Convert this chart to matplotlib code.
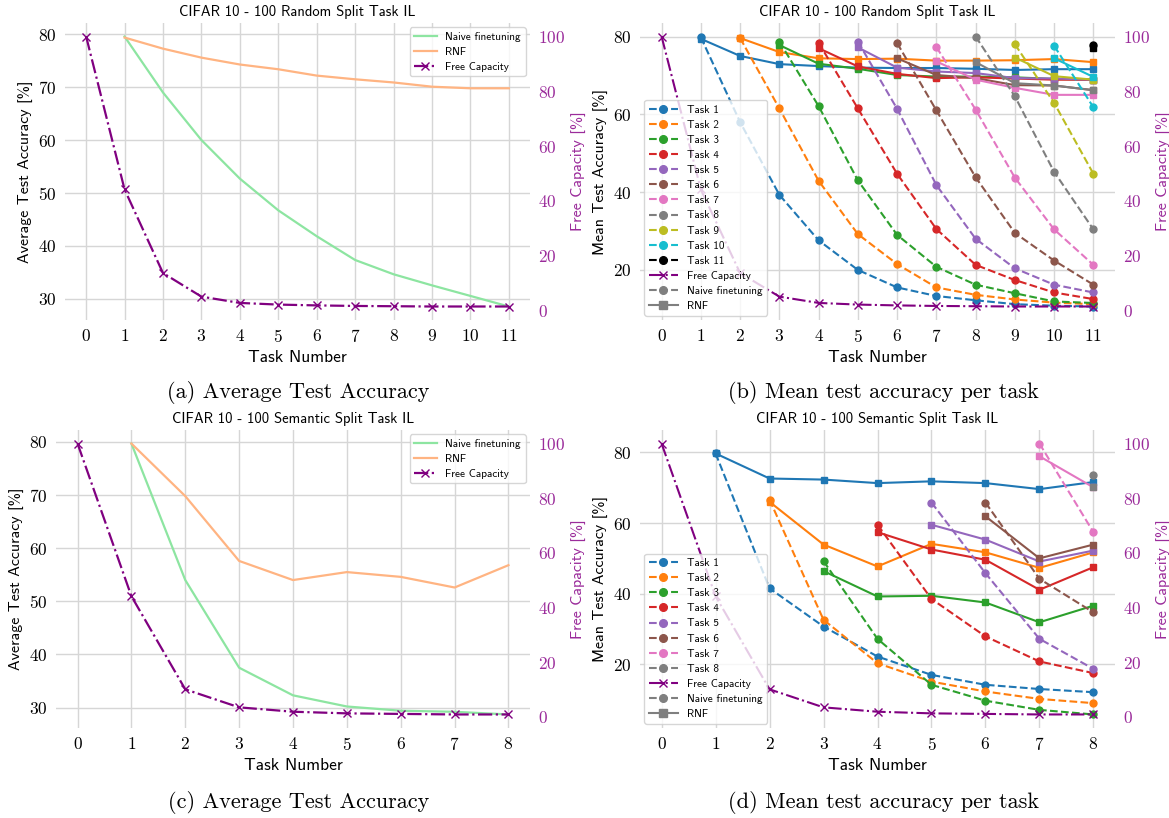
import matplotlib
matplotlib.use('Agg')
import matplotlib.pyplot as plt
from matplotlib.lines import Line2D
from matplotlib.ticker import MultipleLocator

plt.rcParams['font.family'] = ['cmss10', 'DejaVu Sans']
plt.rcParams['axes.formatter.use_mathtext'] = True
plt.rcParams['axes.unicode_minus'] = False

PURPLE = '#800080'
LABEL_PURPLE = '#9a2a9a'
GREEN = '#8de5a1'
ORANGE = '#ffb482'
GREY = '#7f7f7f'
TASK_COLORS = ['#1f77b4', '#ff7f0e', '#2ca02c', '#d62728', '#9467bd', '#8c564b',
               '#e377c2', '#7f7f7f', '#bcbd22', '#17becf', '#000000']

# ---- CIFAR 10 - 100 random split ----
random_tasks = [0, 1, 2, 3, 4, 5, 6, 7, 8, 9, 10, 11]
random_free = [100, 44.2, 13.7, 5.1, 2.8, 2.2, 1.9, 1.7, 1.6, 1.5, 1.5, 1.5]
random_naive_avg = [79.6, 69.0, 60.0, 52.7, 46.7, 41.8, 37.3, 34.6, 32.5, 30.5, 28.5]
random_rnf_avg = [79.4, 77.3, 75.6, 74.3, 73.4, 72.2, 71.5, 70.9, 70.1, 69.8, 69.8]

# per task accuracy, starting at the task's own step
random_naive = [
    [79.8, 58.0, 39.3, 27.6, 20.0, 15.5, 13.3, 12.2, 11.2, 10.8, 10.6],
    [79.6, 61.5, 42.9, 29.2, 21.5, 15.5, 13.6, 12.4, 11.6, 11.2],
    [78.7, 62.1, 43.0, 29.0, 20.8, 16.2, 14.0, 11.9, 11.5],
    [78.4, 61.5, 44.7, 30.5, 21.3, 17.4, 14.2, 12.5],
    [78.7, 61.4, 41.8, 28.0, 20.4, 16.2, 14.2],
    [78.3, 61.0, 43.8, 29.5, 22.4, 16.2],
    [77.3, 61.2, 43.7, 30.4, 21.3],
    [80.0, 64.6, 45.2, 30.4],
    [78.0, 62.9, 44.7],
    [77.6, 61.8],
    [77.7],
]
random_rnf = [
    [79.4, 75.0, 72.9, 72.4, 72.0, 71.9, 71.9, 71.7, 71.4, 71.6, 71.6],
    [79.6, 76.0, 74.4, 74.2, 74.3, 73.8, 73.8, 73.9, 74.2, 73.4],
    [77.8, 73.0, 71.7, 70.1, 69.7, 69.7, 69.5, 69.1, 68.9],
    [77.0, 72.3, 70.4, 69.3, 69.5, 69.2, 68.9, 68.9],
    [77.2, 72.0, 71.0, 70.6, 69.3, 69.2, 68.9],
    [74.4, 70.1, 69.3, 67.5, 67.4, 66.2],
    [73.6, 68.9, 66.8, 65.0, 65.0],
    [73.4, 68.0, 67.4, 66.2],
    [74.6, 69.8, 68.9],
    [74.4, 69.6],
    [77.0],
]

# ---- CIFAR 10 - 100 semantic split ----
semantic_tasks = [0, 1, 2, 3, 4, 5, 6, 7, 8]
semantic_free = [100, 44.1, 10.0, 3.4, 1.8, 1.2, 1.0, 0.8, 0.8]
semantic_naive_avg = [79.7, 54.0, 37.5, 32.3, 30.2, 29.4, 29.2, 28.7]
semantic_rnf_avg = [79.7, 69.8, 57.6, 54.0, 55.5, 54.6, 52.6, 56.8]

semantic_naive = [
    [79.7, 41.5, 30.7, 22.2, 17.0, 14.2, 13.0, 12.1],
    [66.6, 32.6, 20.3, 15.1, 12.3, 10.2, 9.0],
    [49.2, 27.2, 14.2, 9.7, 7.1, 5.8],
    [59.5, 38.5, 27.9, 20.8, 17.5],
    [65.8, 45.8, 27.2, 18.7],
    [65.8, 44.2, 34.7],
    [82.5, 57.4],
    [73.6],
]
semantic_rnf = [
    [79.7, 72.6, 72.3, 71.3, 71.8, 71.3, 69.6, 71.6],
    [66.0, 53.9, 47.7, 54.1, 51.7, 47.3, 51.7],
    [46.4, 39.2, 39.4, 37.5, 31.9, 36.6],
    [57.4, 52.5, 49.6, 41.1, 47.5],
    [59.5, 55.3, 49.1, 52.2],
    [61.9, 50.0, 53.9],
    [78.9, 70.1],
    [70.3],
]

W, H = 1169, 818
fig = plt.figure(figsize=(W / 100, H / 100), dpi=100)


def px_axes(x0, y0, x1, y1):
    return fig.add_axes([x0 / W, 1 - y1 / H, (x1 - x0) / W, (y1 - y0) / H])


def style(ax, ax2, tasks, ystep, ylabel, title):
    for a in (ax, ax2):
        for s in a.spines.values():
            s.set_visible(False)
        a.tick_params(length=0, pad=6, labelsize=12.5, labelfontfamily='cmr10')
    ax.grid(True, color='#d6d6d6', lw=1.0)
    ax.set_axisbelow(True)
    ax2.grid(False)
    ax.set_xticks(tasks)
    ax.yaxis.set_major_locator(MultipleLocator(ystep))
    ax2.yaxis.set_major_locator(MultipleLocator(20))
    ax2.tick_params(axis='y', colors=LABEL_PURPLE)
    ax.set_xlabel('Task Number', fontsize=12.5, labelpad=3)
    ax.set_ylabel(ylabel, fontsize=11.5)
    ax2.set_ylabel('Free Capacity [%]', fontsize=11.5, color=LABEL_PURPLE)
    ax.set_title(title, fontsize=10.5, pad=5)


def avg_panel(ax, tasks, naive, rnf, free, title):
    ax2 = ax.twinx()
    ax.plot(tasks[1:], naive, color=GREEN, lw=1.6)
    ax.plot(tasks[1:], rnf, color=ORANGE, lw=1.6)
    ax2.plot(tasks, free, color=PURPLE, ls='-.', marker='x', lw=1.6, ms=6)
    style(ax, ax2, tasks, 10, 'Average Test Accuracy [%]', title)
    handles = [Line2D([], [], color=GREEN, lw=1.6),
               Line2D([], [], color=ORANGE, lw=1.6),
               Line2D([], [], color=PURPLE, ls='-.', marker='x', lw=1.6, ms=6)]
    ax2.legend(handles, ['Naive finetuning', 'RNF', 'Free Capacity'],
               loc='upper right', fontsize=8, labelspacing=0.45, borderaxespad=0.4)


def task_panel(ax, tasks, naive, rnf, free, title):
    ax2 = ax.twinx()
    for k in range(len(naive)):
        xs = tasks[k + 1:k + 1 + len(naive[k])]
        ax.plot(xs, naive[k], ls='--', marker='o', color=TASK_COLORS[k], lw=1.5, ms=5)
        ax.plot(xs, rnf[k], ls='-', marker='s', color=TASK_COLORS[k], lw=1.5, ms=5)
    ax2.plot(tasks, free, color=PURPLE, ls='-.', marker='x', lw=1.5, ms=6)
    style(ax, ax2, tasks, 20, 'Mean Test Accuracy [%]', title)
    handles, labels = [], []
    for k in range(len(naive)):
        handles.append(Line2D([], [], color=TASK_COLORS[k], ls='--', marker='o', lw=1.5, ms=5.5))
        labels.append(f'Task {k + 1}')
    handles += [Line2D([], [], color=PURPLE, ls='-.', marker='x', lw=1.5, ms=6),
                Line2D([], [], color=GREY, ls='--', marker='o', lw=1.5, ms=5.5),
                Line2D([], [], color=GREY, ls='-', marker='s', lw=1.5, ms=5.5)]
    labels += ['Free Capacity', 'Naive finetuning', 'RNF']
    ax2.legend(handles, labels, loc='lower left', fontsize=8, labelspacing=0.46,
               handlelength=2.6, borderaxespad=0.4)


ax_a = px_axes(65, 23, 530, 320)
avg_panel(ax_a, random_tasks, random_naive_avg, random_rnf_avg, random_free,
          'CIFAR 10 - 100 Random Split Task IL')
ax_b = px_axes(640, 23, 1115, 320)
task_panel(ax_b, random_tasks, random_naive, random_rnf, random_free,
           'CIFAR 10 - 100 Random Split Task IL')
ax_c = px_axes(56, 430, 530, 728)
avg_panel(ax_c, semantic_tasks, semantic_naive_avg, semantic_rnf_avg, semantic_free,
          'CIFAR 10 - 100 Semantic Split Task IL')
ax_d = px_axes(640, 430, 1115, 728)
task_panel(ax_d, semantic_tasks, semantic_naive, semantic_rnf, semantic_free,
           'CIFAR 10 - 100 Semantic Split Task IL')

captions = [(298, 393, '(a) Average Test Accuracy'),
            (883, 393, '(b) Mean test accuracy per task'),
            (299, 802, '(c) Average Test Accuracy'),
            (883, 802, '(d) Mean test accuracy per task')]
for cx, cy, txt in captions:
    fig.text(cx / W, 1 - cy / H, txt, ha='center', va='center', fontsize=16,
             family=['cmr10', 'DejaVu Serif'])

fig.savefig('out.png', dpi=100)
